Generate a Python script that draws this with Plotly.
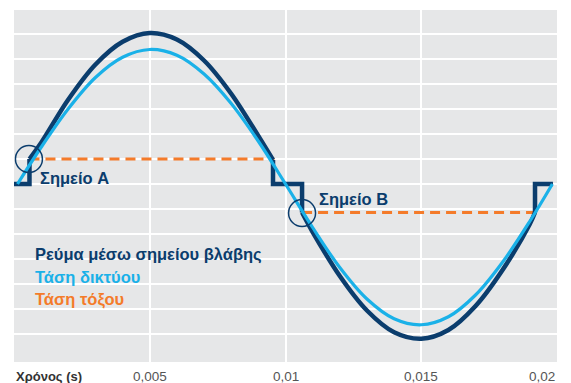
import plotly.graph_objects as go

# ---- data ----
# time axis ticks
tick_vals = [0.005, 0.01, 0.015, 0.02]
tick_text = ["0,005", "0,01", "0,015", "0,02"]
axis_title = "Χρόνος (s)"

# Grid voltage (Τάση δικτύου)
volt_t = [0.00013, 0.001, 0.002, 0.003, 0.004, 0.005, 0.006, 0.007, 0.008, 0.009, 0.010,
          0.011, 0.012, 0.013, 0.014, 0.015, 0.016, 0.017, 0.018, 0.019, 0.01983]
volt_v = [0.0, 1.47, 3.01, 4.26, 5.07, 5.38, 5.15, 4.40, 3.22, 1.71, 0.0,
          -1.74, -3.34, -4.60, -5.39, -5.63, -5.31, -4.44, -3.12, -1.49, 0.0]

# Fault current (Ρεύμα μέσω σημείου βλάβης) - smooth parts
cur1_t = [0.00057, 0.001, 0.002, 0.003, 0.004, 0.005, 0.006, 0.007, 0.008, 0.009, 0.00954]
cur1_v = [1.0, 1.65, 3.38, 4.78, 5.69, 6.04, 5.78, 4.94, 3.61, 1.92, 0.96]
cur2_t = [0.01061, 0.011, 0.012, 0.013, 0.014, 0.015, 0.016, 0.017, 0.018, 0.019, 0.01919]
cur2_v = [-1.14, -1.92, -3.68, -5.06, -5.93, -6.19, -5.84, -4.88, -3.43, -1.60, -1.14]
# Fault current - step parts
step0_t = [0.0, 0.00057, 0.00057]
step0_v = [0.0, 0.0, 1.0]
step1_t = [0.00954, 0.00954, 0.01061, 0.01061]
step1_v = [0.96, 0.0, 0.0, -1.14]
step2_t = [0.01919, 0.01919, 0.01985]
step2_v = [-1.14, 0.0, 0.0]

# Arc voltage (Τάση τόξου)
arcA_t = [0.00057, 0.00959]
arcA_v = [1.0, 1.0]
arcB_t = [0.01061, 0.01937]
arcB_v = [-1.14, -1.14]

# Marked points
pts_t = [0.00055, 0.01061]
pts_v = [1.0, -1.16]
pts_label = ["Σημείο A", "Σημείο B"]

legend_items = ["Ρεύμα μέσω σημείου βλάβης", "Τάση δικτύου", "Τάση τόξου"]

# horizontal grid levels
grid_levels = [-6, -5, -4, -3, -2, -1, 0, 1, 2, 3, 4, 5, 6]

# ---- styles ----
DARK = "#0b3d6d"
LIGHT = "#1ab1e8"
ORANGE = "#f47b2a"
BG = "#e6e7e8"
FONT = "Liberation Sans, Arial, sans-serif"

fig = go.Figure()

for tx, vy in [(arcA_t, arcA_v), (arcB_t, arcB_v)]:
    fig.add_trace(go.Scatter(x=tx, y=vy, mode="lines",
                             line=dict(color=ORANGE, width=3, dash="10px,6px")))

for tx, vy in [(cur1_t, cur1_v), (cur2_t, cur2_v)]:
    fig.add_trace(go.Scatter(x=tx, y=vy, mode="lines",
                             line=dict(color=DARK, width=4.5, shape="spline")))
for tx, vy in [(step0_t, step0_v), (step1_t, step1_v), (step2_t, step2_v)]:
    fig.add_trace(go.Scatter(x=tx, y=vy, mode="lines",
                             line=dict(color=DARK, width=4.5)))

fig.add_trace(go.Scatter(x=volt_t, y=volt_v, mode="lines",
                         line=dict(color=LIGHT, width=3.2, shape="spline")))

fig.add_trace(go.Scatter(x=pts_t, y=pts_v, mode="markers",
                         marker=dict(symbol="circle-open", size=27,
                                     color=DARK, line=dict(color=DARK, width=1.5))))

annotations = []
# point labels
annotations.append(dict(x=0.00088, y=0.26, xref="x", yref="y", text="<b>" + pts_label[0] + "</b>",
                        showarrow=False, xanchor="left", yanchor="middle",
                        font=dict(family=FONT, size=16.5, color=DARK)))
annotations.append(dict(x=0.01116, y=-0.6, xref="x", yref="y", text="<b>" + pts_label[1] + "</b>",
                        showarrow=False, xanchor="left", yanchor="middle",
                        font=dict(family=FONT, size=16.5, color=DARK)))
# legend text
leg_colors = [DARK, LIGHT, ORANGE]
leg_y = [-2.8, -3.7, -4.62]
for txt, c, yy in zip(legend_items, leg_colors, leg_y):
    annotations.append(dict(x=0.0007, y=yy, xref="x", yref="y", text="<b>" + txt + "</b>",
                            showarrow=False, xanchor="left", yanchor="middle",
                            font=dict(family=FONT, size=16.5, color=c)))
# tick labels
for i, (tv, tt) in enumerate(zip(tick_vals, tick_text)):
    annotations.append(dict(x=tv, y=-0.042, xref="x", yref="paper", text=tt,
                            showarrow=False, xanchor="right" if i == len(tick_vals) - 1 else "center",
                            yanchor="middle",
                            font=dict(family=FONT, size=13.5, color="#555555")))
annotations.append(dict(x=0, y=-0.042, xref="x", yref="paper", text="<b>" + axis_title + "</b>",
                        showarrow=False, xanchor="left", yanchor="middle",
                        font=dict(family=FONT, size=13, color="#333333")))

fig.update_layout(
    width=571, height=383,
    margin=dict(l=14, r=14, t=10, b=21),
    paper_bgcolor="white", plot_bgcolor=BG,
    showlegend=False, hovermode=False,
    annotations=annotations,
    xaxis=dict(range=[0, 0.02], tickvals=tick_vals[:3], showticklabels=False,
               showgrid=True, gridcolor="white", gridwidth=1.5, zeroline=False,
               ticks="", showline=False, fixedrange=True),
    yaxis=dict(range=[-7.12, 6.96], tickvals=grid_levels, showticklabels=False,
               showgrid=True, gridcolor="white", gridwidth=2, zeroline=False,
               ticks="", showline=False, fixedrange=True),
)

fig.write_html("out.html", config={"displayModeBar": False},
               post_script="document.body.style.margin='0';document.body.style.overflow='hidden';")
